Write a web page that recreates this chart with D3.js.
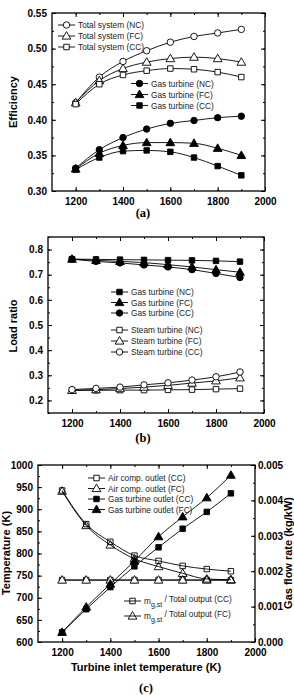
<!DOCTYPE html>
<html>
<head>
<meta charset="utf-8">
<script src="https://cdn.jsdelivr.net/npm/d3@7"></script>
<style>
  body { margin: 0; background: #fff; }
  svg { display: block; }
  text { font-family: Arial, "Liberation Sans", sans-serif; }
</style>
</head>
<body>
<svg id="chart" width="294" height="695"></svg>
<script>
// turbine inlet temperature (K)
var tit = [1200, 1300, 1400, 1500, 1600, 1700, 1800, 1900];
var xTicks = [1200, 1400, 1600, 1800, 2000];

// (a) efficiency
var effTotalNC = [0.424, 0.460, 0.482, 0.497, 0.509, 0.517, 0.522, 0.527];
var effTotalFC = [0.424, 0.455, 0.472, 0.481, 0.486, 0.488, 0.486, 0.481];
var effTotalCC = [0.422, 0.450, 0.463, 0.469, 0.472, 0.471, 0.467, 0.460];
var effGtNC = [0.332, 0.358, 0.375, 0.387, 0.395, 0.399, 0.403, 0.405];
var effGtFC = [0.331, 0.353, 0.364, 0.368, 0.368, 0.367, 0.360, 0.350];
var effGtCC = [0.330, 0.347, 0.356, 0.357, 0.355, 0.347, 0.335, 0.322];
var effTicks = [0.30, 0.35, 0.40, 0.45, 0.50, 0.55];

// (b) load ratio
var loadGtNC = [0.762, 0.761, 0.760, 0.759, 0.758, 0.757, 0.755, 0.752];
var loadGtFC = [0.762, 0.757, 0.753, 0.748, 0.740, 0.731, 0.720, 0.710];
var loadGtCC = [0.762, 0.753, 0.747, 0.739, 0.731, 0.720, 0.705, 0.689];
var loadStNC = [0.240, 0.240, 0.241, 0.241, 0.242, 0.243, 0.245, 0.247];
var loadStFC = [0.240, 0.243, 0.247, 0.253, 0.260, 0.269, 0.278, 0.290];
var loadStCC = [0.243, 0.248, 0.253, 0.262, 0.270, 0.281, 0.294, 0.313];
var loadTicks = [0.2, 0.3, 0.4, 0.5, 0.6, 0.7, 0.8];

// (c) temperatures (K) and gas flow rate (kg/kW)
var airOutCC = [740, 740, 740, 740, 740, 740, 740, 740];
var airOutFC = [740, 740, 740, 740, 740, 740, 740, 740];
var gtOutCC = [622, 674, 724, 771, 814, 856, 894, 936];
var gtOutFC = [622, 679, 731, 783, 838, 883, 926, 977];
var mgstCC = [0.00428, 0.00333, 0.00283, 0.00244, 0.00229, 0.00215, 0.00206, 0.00200];
var mgstFC = [0.00426, 0.00329, 0.00274, 0.00235, 0.00213, 0.00194, 0.00178, 0.00176];
var tempTicks = [600, 650, 700, 750, 800, 850, 900, 950, 1000];
var flowTicks = [0, 0.001, 0.002, 0.003, 0.004, 0.005];

var svg = d3.select('#chart');

var shapes = { circle: d3.symbolCircle, triangle: d3.symbolTriangle, square: d3.symbolSquare };
var sizes = { circle: 33, triangle: 33, square: 30 };

function marker(g, x, y, shape, fill) {
  g.append('path')
    .attr('d', d3.symbol().type(shapes[shape]).size(sizes[shape])())
    .attr('transform', 'translate(' + x + ',' + (shape === 'triangle' ? y + 0.6 : y) + ')')
    .attr('fill', fill)
    .attr('stroke', '#000')
    .attr('stroke-width', 0.9);
}

function frame(p) {
  var g = svg.append('g');
  g.append('rect')
    .attr('x', p.x.range()[0]).attr('y', p.y.range()[1])
    .attr('width', p.x.range()[1] - p.x.range()[0])
    .attr('height', p.y.range()[0] - p.y.range()[1])
    .attr('fill', 'none').attr('stroke', '#000').attr('stroke-width', 1.3);

  // x ticks (bottom labelled, top mirrored), minor every 100
  var minorX = d3.range(1200, 2000, 100);
  [['bottom', p.y.range()[0]], ['top', p.y.range()[1]]].forEach(function (s) {
    var axis = (s[0] === 'bottom' ? d3.axisBottom(p.x) : d3.axisTop(p.x))
      .tickValues(minorX).tickSizeInner(-2).tickSizeOuter(0).tickFormat('');
    var major = (s[0] === 'bottom' ? d3.axisBottom(p.x) : d3.axisTop(p.x))
      .tickValues(xTicks).tickSizeInner(-4).tickSizeOuter(0).tickPadding(7)
      .tickFormat(s[0] === 'bottom' ? d3.format('d') : '');
    g.append('g').attr('transform', 'translate(0,' + s[1] + ')').call(axis);
    g.append('g').attr('class', 'maj').attr('transform', 'translate(0,' + s[1] + ')').call(major);
  });
  return g;
}

function yAxis(g, scale, x, side, ticks, minor, fmt) {
  var mk = side === 'left' ? d3.axisLeft : d3.axisRight;
  g.append('g').attr('transform', 'translate(' + x + ',0)')
    .call(mk(scale).tickValues(minor).tickSizeInner(-2).tickSizeOuter(0).tickFormat(''));
  g.append('g').attr('class', 'maj').attr('transform', 'translate(' + x + ',0)')
    .call(mk(scale).tickValues(ticks).tickSizeInner(-4).tickSizeOuter(0)
      .tickPadding(side === 'left' ? 5 : 3)
      .tickFormat(fmt || ''));
}

function styleAxes(g) {
  g.selectAll('.domain').remove();
  g.selectAll('.tick line').attr('stroke', '#000').attr('stroke-width', 1);
  g.selectAll('.tick text').attr('fill', '#000')
    .style('font-size', '10px').style('font-weight', 'bold')
    .style('font-family', 'Arial, "Liberation Sans", sans-serif');
}

function series(g, x, y, vals, shape, fill) {
  var line = d3.line().x(function (d, i) { return x(tit[i]); }).y(function (d) { return y(d); })
    .curve(d3.curveMonotoneX);
  g.append('path').datum(vals).attr('d', line)
    .attr('fill', 'none').attr('stroke', '#000').attr('stroke-width', 0.9);
  vals.forEach(function (v, i) { marker(g, x(tit[i]), y(v), shape, fill); });
}

function legend(g, x, y, label, shape, fill) {
  g.append('line').attr('x1', x).attr('x2', x + 17).attr('y1', y).attr('y2', y)
    .attr('stroke', '#000').attr('stroke-width', 0.9);
  marker(g, x + 8.5, y, shape, fill);
  var t = g.append('text').attr('x', x + 20).attr('y', y + 3)
    .style('font-size', '8.3px').attr('fill', '#222');
  if (typeof label === 'string') t.text(label);
  else {
    t.append('tspan').text(label[0]);
    t.append('tspan').text(label[1]).attr('dy', 2.5).style('font-size', '7px');
    t.append('tspan').text(label[2]).attr('dy', -4.5);
  }
}

function yTitle(x, y, txt) {
  svg.append('text').attr('transform', 'translate(' + x + ',' + y + ') rotate(-90)')
    .attr('text-anchor', 'middle').style('font-size', '11px').style('font-weight', 'bold')
    .text(txt);
}

function panelLabel(x, y, txt) {
  svg.append('text').attr('x', x).attr('y', y).attr('text-anchor', 'middle')
    .style('font-family', '"Liberation Serif", "Times New Roman", serif')
    .style('font-size', '12.5px').style('font-weight', 'bold').text(txt);
}

// ---------- (a) ----------
var xa = d3.scaleLinear().domain([1100, 2000]).range([52, 265]);
var ya = d3.scaleLinear().domain([0.30, 0.55]).range([191, 13]);
var ga = frame({ x: xa, y: ya });
var effMinor = d3.range(0.30, 0.5501, 0.025);
yAxis(ga, ya, 52, 'left', effTicks, effMinor, d3.format('.2f'));
yAxis(ga, ya, 265, 'right', effTicks, effMinor, null);
styleAxes(ga);
series(ga, xa, ya, effTotalNC, 'circle', '#fff');
series(ga, xa, ya, effTotalFC, 'triangle', '#fff');
series(ga, xa, ya, effTotalCC, 'square', '#fff');
series(ga, xa, ya, effGtNC, 'circle', '#000');
series(ga, xa, ya, effGtFC, 'triangle', '#000');
series(ga, xa, ya, effGtCC, 'square', '#000');
legend(ga, 58, 25, 'Total system (NC)', 'circle', '#fff');
legend(ga, 58, 36, 'Total system (FC)', 'triangle', '#fff');
legend(ga, 58, 47, 'Total system (CC)', 'square', '#fff');
legend(ga, 131, 83.5, 'Gas turbine (NC)', 'circle', '#000');
legend(ga, 131, 94.5, 'Gas turbine (FC)', 'triangle', '#000');
legend(ga, 131, 105.5, 'Gas turbine (CC)', 'square', '#000');
yTitle(17, 102, 'Efficiency');
panelLabel(143, 217, '(a)');

// ---------- (b) ----------
var xb = d3.scaleLinear().domain([1100, 2000]).range([48, 264]);
var yb = d3.scaleLinear().domain([0.15, 0.85]).range([413, 237]);
var gb = frame({ x: xb, y: yb });
var loadMinor = d3.range(0.15, 0.851, 0.05);
yAxis(gb, yb, 48, 'left', loadTicks, loadMinor, d3.format('.1f'));
yAxis(gb, yb, 264, 'right', loadTicks, loadMinor, null);
styleAxes(gb);
series(gb, xb, yb, loadGtNC, 'square', '#000');
series(gb, xb, yb, loadGtFC, 'triangle', '#000');
series(gb, xb, yb, loadGtCC, 'circle', '#000');
series(gb, xb, yb, loadStNC, 'square', '#fff');
series(gb, xb, yb, loadStFC, 'triangle', '#fff');
series(gb, xb, yb, loadStCC, 'circle', '#fff');
legend(gb, 111, 292, 'Gas turbine (NC)', 'square', '#000');
legend(gb, 111, 302.5, 'Gas turbine (FC)', 'triangle', '#000');
legend(gb, 111, 313, 'Gas turbine (CC)', 'circle', '#000');
legend(gb, 111, 330, 'Steam turbine (NC)', 'square', '#fff');
legend(gb, 111, 341, 'Steam turbine (FC)', 'triangle', '#fff');
legend(gb, 111, 352, 'Steam turbine (CC)', 'circle', '#fff');
yTitle(17, 326, 'Load ratio');
panelLabel(143, 442, '(b)');

// ---------- (c) ----------
var xc = d3.scaleLinear().domain([1100, 2000]).range([38, 255]);
var yc = d3.scaleLinear().domain([600, 1000]).range([642, 465]);
var yr = d3.scaleLinear().domain([0, 0.005]).range([642, 465]);
var gc = frame({ x: xc, y: yc });
yAxis(gc, yc, 38, 'left', tempTicks, d3.range(600, 1001, 25), d3.format('d'));
yAxis(gc, yr, 255, 'right', flowTicks, d3.range(0, 0.00501, 0.0005), d3.format('.3f'));
styleAxes(gc);
series(gc, xc, yc, airOutCC, 'square', '#fff');
series(gc, xc, yc, airOutFC, 'triangle', '#fff');
series(gc, xc, yc, gtOutCC, 'square', '#000');
series(gc, xc, yc, gtOutFC, 'triangle', '#000');
series(gc, xc, yr, mgstCC, 'square', 'none');
series(gc, xc, yr, mgstFC, 'triangle', 'none');
legend(gc, 88, 478, 'Air comp. outlet (CC)', 'square', '#fff');
legend(gc, 88, 488.5, 'Air comp. outlet (FC)', 'triangle', '#fff');
legend(gc, 88, 499, 'Gas turbine outlet (CC)', 'square', '#000');
legend(gc, 88, 509.5, 'Gas turbine outlet (FC)', 'triangle', '#000');
legend(gc, 124, 601, ['m', 'g,st', ' / Total output (CC)'], 'square', 'none');
legend(gc, 124, 616, ['m', 'g,st', ' / Total output (FC)'], 'triangle', 'none');
yTitle(10, 553, 'Temperature (K)');
svg.append('text').attr('transform', 'translate(292,553) rotate(-90)')
  .attr('text-anchor', 'middle').style('font-size', '11px').style('font-weight', 'bold')
  .text('Gas flow rate (kg/kW)');
svg.append('text').attr('x', 146).attr('y', 671).attr('text-anchor', 'middle')
  .style('font-size', '11px').style('font-weight', 'bold').text('Turbine inlet temperature (K)');
panelLabel(146, 692, '(c)');
</script>
</body>
</html>
